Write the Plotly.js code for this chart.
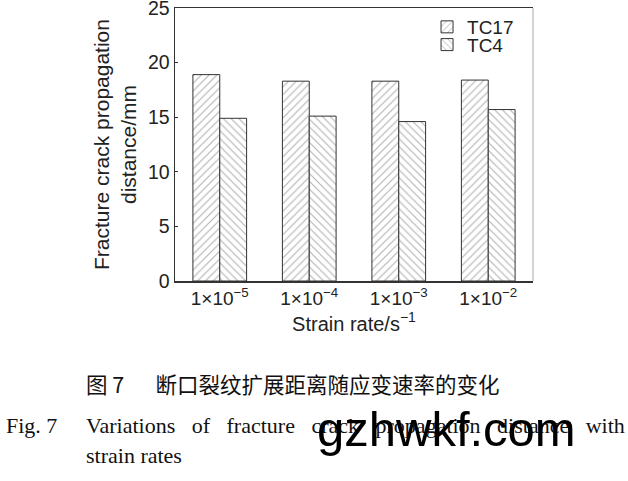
<!DOCTYPE html>
<html>
<head>
<meta charset="utf-8">
<script src="https://cdn.plot.ly/plotly-3.0.1.min.js"></script>
<style>html,body{margin:0;padding:0;background:#fff;}#chart{width:628px;height:481px;}</style>
</head>
<body>
<div id="chart"></div>
<script>
const categories = ["1×10<sup>−5</sup>", "1×10<sup>−4</sup>", "1×10<sup>−3</sup>", "1×10<sup>−2</sup>"];
const tc17 = [18.9, 18.3, 18.3, 18.4];
const tc4 = [14.9, 15.1, 14.6, 15.7];
const seriesNames = ["TC17", "TC4"];
const yTicks = [0, 5, 10, 15, 20, 25];

const sans = "Liberation Sans, Arial, sans-serif";
const serif = "Liberation Serif, Times New Roman, serif";
const NB = "\u00A0";

function barTrace(name, vals, shape, legendId) {
  return {
    type: "bar", name: name, x: categories, y: vals, legend: legendId,
    marker: {
      color: "#ffffff",
      line: {color: "#333", width: 1},
      pattern: {shape: shape, fgcolor: "#666", bgcolor: "#ffffff", size: 5.5, solidity: 0.2, fillmode: "overlay"}
    }
  };
}

const data = [barTrace(seriesNames[0], tc17, "/", "legend"), barTrace(seriesNames[1], tc4, "\\", "legend2")];

const engLine = ["Variations", "of", "fracture", "crack", "propagation", "distance", "with"].join(" " + NB + NB);

const legFont = {family: sans, size: 19, color: "#222"};

const layout = {
  width: 628, height: 481,
  margin: {l: 175, r: 95, t: 8, b: 200},
  paper_bgcolor: "#fff", plot_bgcolor: "#fff",
  barmode: "group", bargap: 0.4, bargroupgap: 0,
  showlegend: true,
  legend: {x: 0.704, y: 1.0, xanchor: "left", yanchor: "top", bgcolor: "rgba(0,0,0,0)",
           font: legFont, itemwidth: 30},
  legend2: {x: 0.704, y: 0.935, xanchor: "left", yanchor: "top", bgcolor: "rgba(0,0,0,0)",
           font: legFont, itemwidth: 30},
  xaxis: {
    type: "category", automargin: false,
    showline: true, linecolor: "#333", linewidth: 1.5, mirror: true,
    ticks: "", showgrid: false, zeroline: false,
    tickfont: {family: sans, size: 19, color: "#222"},
    title: {text: "Strain rate/s<sup>−1</sup>", font: {family: sans, size: 20, color: "#222"}, standoff: 6}
  },
  yaxis: {
    range: [0, 25], tickvals: yTicks, ticklabeloverflow: "allow", automargin: false,
    showline: true, linecolor: "#333", linewidth: 1.5,
    ticks: "inside", ticklen: 3, tickcolor: "#333",
    showgrid: false, zeroline: false,
    tickfont: {family: sans, size: 19.5, color: "#222"},
    title: {text: "Fracture crack propagation<br>distance/mm", font: {family: sans, size: 21, color: "#222"}, standoff: 5}
  },
  shapes: [
    {type: "line", xref: "paper", yref: "paper", x0: 1, x1: 1, y0: 0, y1: 1, line: {color: "#aaa", width: 1}}
  ],
  annotations: [
    {xref: "paper", yref: "paper", x: -0.254, y: -0.374, xanchor: "left", yanchor: "middle", showarrow: false,
     text: "图 7 " + NB + "　断口裂纹扩展距离随应变速率的变化", font: {family: "Noto Sans CJK SC", size: 21.5, color: "#111"}},
    {xref: "paper", yref: "paper", x: -0.477, y: -0.528, xanchor: "left", yanchor: "middle", showarrow: false,
     text: "Fig. 7", font: {family: serif, size: 22, color: "#111"}},
    {xref: "paper", yref: "paper", x: -0.253, y: -0.528, xanchor: "left", yanchor: "middle", showarrow: false,
     text: engLine, font: {family: serif, size: 22, color: "#111"}},
    {xref: "paper", yref: "paper", x: -0.253, y: -0.641, xanchor: "left", yanchor: "middle", showarrow: false,
     text: "strain rates", font: {family: serif, size: 22, color: "#111"}},
    {xref: "paper", yref: "paper", x: 0.391, y: -0.542, xanchor: "left", yanchor: "middle", showarrow: false,
     text: "gzhwkf.com", font: {family: sans, size: 49, color: "#000"}}
  ]
};

Plotly.newPlot("chart", data, layout, {displayModeBar: false, staticPlot: true});
</script>
</body>
</html>
